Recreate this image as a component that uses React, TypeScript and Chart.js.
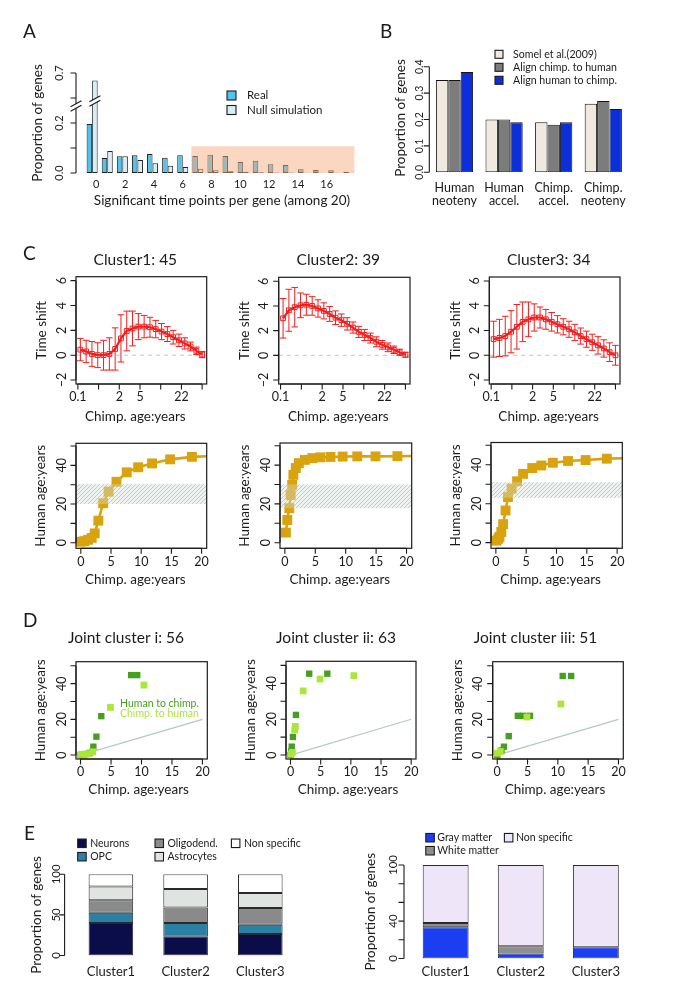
import React, { useEffect, useRef } from 'react';
import { Chart, registerables } from 'chart.js';

Chart.register(...registerables);

const PAGE_W = 685;
const PAGE_H = 1007;
const FONT = 'Lato, "Open Sans", "DejaVu Sans", sans-serif';
const INK = '#1b1b1b';
const TICK = 5.5;

// ================= Panel A data =================
const aCounts = ['0', '1', '2', '3', '4', '5', '6', '7', '8', '9', '10', '11', '12', '13', '14', '15', '16', '17'];
const aReal = [0.196, 0.06, 0.067, 0.071, 0.076, 0.061, 0.071, 0.068, 0.073, 0.068, 0.044, 0.049, 0.035, 0.032, 0.015, 0.012, 0.011, 0.005];
const aNull = [0.67, 0.088, 0.067, 0.052, 0.039, 0.029, 0.024, 0.017, 0.011, 0.007, 0.004, 0.003, 0.002, 0.002, 0.0015, 0.0015, 0.0015, 0.0015];
const aSeriesNames = ['Real', 'Null simulation'];
const aYTicks = [0, 0.1, 0.2, 0.6, 0.7];
const aYTickLabels = ['0.0', '', '0.2', '', '0.7'];
const aXTicks = [0, 2, 4, 6, 8, 10, 12, 14, 16];
const aShadeStart = 7;
const aShadeTop = 0.107;

// ================= Panel B data =================
const bCategories = [['Human', 'neoteny'], ['Human', 'accel.'], ['Chimp.', 'accel.'], ['Chimp.', 'neoteny']];
const bSomel = [0.35, 0.2, 0.19, 0.26];
const bChimpToHuman = [0.35, 0.2, 0.18, 0.27];
const bHumanToChimp = [0.38, 0.19, 0.19, 0.24];
const bSeriesNames = ['Somel et al.(2009)', 'Align chimp. to human', 'Align human to chimp.'];
const bYTicks = [0, 0.1, 0.2, 0.3, 0.4];
const bYTickLabels = ['0.0', '0.1', '0.2', '0.3', '0.4'];

// ================= Panel C data =================
const cTitles = ['Cluster1: 45', 'Cluster2: 39', 'Cluster3: 34'];
const cAgeIndex = [0.12, 0.4, 0.68, 0.96, 1.24, 1.52, 1.8, 2.08, 2.36, 2.64, 2.92, 3.2, 3.48, 3.76, 4.04, 4.32, 4.6, 4.88, 5.16, 5.44, 5.72, 6.0];
const cAgeTickIndex = [0, 1, 2, 3, 4, 5, 6];
const cAgeTickLabels = ['0.1', '', '2', '5', '', '22', ''];
const cShiftTicks = [-2, 0, 2, 4, 6];
const cShiftTickLabels = ['\u22122', '0', '2', '4', '6'];
const c1Shift = [0.45, 0.3, 0.1, 0.0, 0.0, 0.1, 0.5, 1.35, 1.95, 2.15, 2.3, 2.3, 2.25, 2.1, 1.9, 1.7, 1.45, 1.2, 0.95, 0.7, 0.35, 0.05];
const c1Err = [0.9, 0.9, 1.0, 1.0, 1.2, 1.3, 1.7, 1.9, 1.6, 1.4, 1.05, 0.9, 0.8, 0.7, 0.65, 0.6, 0.55, 0.5, 0.45, 0.35, 0.3, 0.25];
const c2Shift = [3.0, 3.65, 3.9, 4.05, 4.1, 4.0, 3.8, 3.6, 3.35, 3.05, 2.85, 2.55, 2.25, 1.9, 1.65, 1.4, 1.1, 0.85, 0.65, 0.45, 0.25, 0.05];
const c2Err = [1.6, 1.7, 1.6, 1.0, 0.85, 0.75, 0.7, 0.65, 0.6, 0.55, 0.5, 0.5, 0.45, 0.45, 0.45, 0.4, 0.4, 0.35, 0.35, 0.3, 0.25, 0.2];
const c3Shift = [1.3, 1.4, 1.55, 1.9, 2.3, 2.7, 2.9, 3.05, 3.05, 2.9, 2.7, 2.5, 2.3, 2.1, 1.85, 1.55, 1.3, 1.05, 0.8, 0.55, 0.25, 0.0];
const c3Err = [1.45, 1.5, 1.6, 1.7, 1.8, 1.6, 1.4, 1.1, 0.85, 0.8, 0.75, 0.7, 0.65, 0.65, 0.65, 0.65, 0.65, 0.65, 0.7, 0.7, 0.75, 0.8];
const cShiftMeans = [c1Shift, c2Shift, c3Shift];
const cShiftErrs = [c1Err, c2Err, c3Err];

const c1ChimpAge = [0, 0.6, 1.2, 1.8, 2.3, 2.9, 3.7, 4.6, 5.9, 7.6, 9.5, 11.8, 14.8, 18.4];
const c1HumanAge = [0.5, 0.8, 1.5, 2.5, 4.8, 11.4, 20.4, 26.4, 31.5, 36.4, 39, 41, 43.1, 44.4];
const c2ChimpAge = [0.17, 0.4, 0.73, 0.95, 1.2, 1.4, 1.8, 2.3, 3.3, 4.5, 5.8, 7.5, 9.5, 11.9, 14.9, 18.5];
const c2HumanAge = [5.2, 11.7, 17.8, 24.6, 29.8, 35, 38.5, 41, 42.7, 43.6, 44, 44.2, 44.4, 44.5, 44.5, 44.6];
const c3ChimpAge = [0.1, 0.4, 0.6, 0.9, 1.2, 1.6, 2.0, 2.6, 3.5, 4.5, 6.0, 7.5, 9.4, 11.9, 14.8, 18.3];
const c3HumanAge = [1, 2, 3, 5.5, 9.5, 16.5, 23.4, 27.7, 31.5, 35.3, 38.3, 39.6, 41, 41.9, 42.4, 43.1];
const cChimpAges = [c1ChimpAge, c2ChimpAge, c3ChimpAge];
const cHumanAges = [c1HumanAge, c2HumanAge, c3HumanAge];
const cCurveEndAge = 21.5;
const cCurveEndHuman = [44.8, 44.7, 43.4];
const cBandLow = [20, 17.8, 23];
const cBandHigh = [30.3, 30, 31];
const ageTicks = [0, 5, 10, 15, 20];
const ageTickLabels = ['0', '5', '10', '15', '20'];
const humanTicks = [0, 10, 20, 30, 40, 50];
const humanTickLabels = ['0', '', '20', '', '40', ''];

// ================= Panel D data =================
const dTitles = ['Joint cluster i: 56', 'Joint cluster ii: 63', 'Joint cluster iii: 51'];
const dSeriesNames = ['Chimp. to human', 'Human to chimp.'];
const d1DarkAge = [0, 0.5, 1.0, 1.5, 2.0, 2.1, 2.6, 3.4, 8.3, 9.3];
const d1DarkHuman = [0, 0.3, 0.6, 1.2, 2.2, 4.7, 10.3, 21.8, 44.8, 44.8];
const d1LightAge = [0.1, 0.7, 1.3, 2.0, 4.9, 10.4];
const d1LightHuman = [0.4, 0.5, 0.8, 1.8, 26.7, 39.2];
const d2DarkAge = [0, 0.1, 0.2, 0.4, 0.9, 3.1, 6.1];
const d2DarkHuman = [0, 2, 4.7, 10.1, 22.4, 45.4, 45.4];
const d2LightAge = [0.1, 0.3, 0.7, 0.8, 2.1, 4.9, 10.5];
const d2LightHuman = [0.5, 1.5, 14, 16, 35.8, 42.4, 44.3];
const d3DarkAge = [0, 0.7, 1.1, 1.9, 3.4, 4.3, 5.4, 10.8, 12.2];
const d3DarkHuman = [0, 2.6, 4.7, 10.6, 22, 22, 22, 44.3, 44.3];
const d3LightAge = [0, 0.5, 4.9, 10.5];
const d3LightHuman = [1, 2, 21.3, 28.6];
const dDarkAges = [d1DarkAge, d2DarkAge, d3DarkAge];
const dDarkHumans = [d1DarkHuman, d2DarkHuman, d3DarkHuman];
const dLightAges = [d1LightAge, d2LightAge, d3LightAge];
const dLightHumans = [d1LightHuman, d2LightHuman, d3LightHuman];
const dDiagonal = [0, 20];

// ================= Panel E data =================
const eClusters = ['Cluster1', 'Cluster2', 'Cluster3'];
const eCellTypes = ['Neurons', 'OPC', 'Oligodend.', 'Astrocytes', 'Non specific'];
const eNeurons = [40, 23, 26.5];
const eOPC = [12.5, 17, 11.5];
const eOligodend = [15.5, 19, 20.5];
const eAstrocytes = [17, 23, 18.5];
const eNonSpecificCell = [15, 18, 23];
const eCellValues = [eNeurons, eOPC, eOligodend, eAstrocytes, eNonSpecificCell];
const eLeftTicks = [0, 50, 100];
const eLeftTickLabels = ['0', '50', '100'];
const eMatterTypes = ['Gray matter', 'White matter', 'Non specific'];
const eGrayMatter = [33.5, 5.3, 12];
const eWhiteMatter = [4.5, 7.8, 0];
const eNonSpecificMatter = [62, 86.9, 88];
const eMatterValues = [eGrayMatter, eWhiteMatter, eNonSpecificMatter];
const eRightTicks = [0, 20, 40, 60, 80, 100];
const eRightTickLabels = ['0', '', '40', '', '', '100'];

// ================= styles / layout =================
const RED = '#f41d1d';
const GOLD = '#d9a30f';
const DARK_GREEN = '#46a01e';
const LIGHT_GREEN = '#ace53c';
const bColors = ['#efe9e0', '#7c7c7c', '#0c2fd9'];
const eCellColors = ['#0b0c4a', '#2b80a6', '#8a8a8a', '#dfe4e1', '#ffffff'];
const eMatterColors = ['#1c3ef3', '#8f8f8f', '#eee6f8'];

type Area = [number, number, number, number];
const areaA: Area = [84.6, 73, 356.4, 173];
const areaB: Area = [429.7, 66.7, 628.1, 172.3];
const cTopAreas: Area[] = [[76, 276.7, 206.7, 384], [278.7, 277.3, 410, 384], [489.3, 277, 620, 384]];
const cBotAreas: Area[] = [[76, 443.3, 206.7, 548.3], [280, 443, 411.7, 548.3], [491, 442.5, 622.3, 548.3]];
const dAreas: Area[] = [[76, 661.7, 207.3, 759], [286, 661.3, 416, 759], [492.7, 661.7, 623.3, 759]];
const dTitleX = [126, 336, 535.5];
const eLeftArea: Area = [73.55, 874.3, 297.65, 955.5];
const eRightArea: Area = [408.1, 865, 633.4, 958.5];
const eLeftLegendPos = [[77.7, 843.3], [77.7, 856.7], [155, 843.3], [155, 856.7], [231.4, 843.3]];
const eRightLegendPos = [[425.8, 837.7], [425.8, 850.7], [504.4, 837.7]];
const eLabelY = 971.5;

function pad(a: Area) {
  return { left: a[0], top: a[1], right: PAGE_W - a[2], bottom: PAGE_H - a[3] };
}

function baseOptions(area: Area, scales: any) {
  return {
    responsive: false,
    maintainAspectRatio: false,
    animation: false,
    events: [],
    layout: { padding: pad(area) },
    plugins: { legend: { display: false }, tooltip: { enabled: false }, title: { display: false } },
    scales,
  };
}

function txt(ctx: any, s: string, x: number, y: number, size: number, o: any = {}) {
  ctx.save();
  ctx.font = `${o.weight || 'normal'} ${size}px ${o.font || FONT}`;
  ctx.fillStyle = o.color || INK;
  ctx.textAlign = o.align || 'center';
  ctx.textBaseline = o.baseline || 'middle';
  ctx.translate(x, y);
  if (o.rot) ctx.rotate(o.rot);
  ctx.fillText(s, 0, 0);
  ctx.restore();
}

function drawYAxis(chart: any, a: any) {
  const { ctx, chartArea } = chart;
  const s = chart.scales[a.scaleId || 'y'];
  const x0 = a.at ?? chartArea.left;
  const ps = a.ticks.map((v: number) => s.getPixelForValue(v));
  ctx.save();
  ctx.strokeStyle = INK;
  ctx.lineWidth = 1.1;
  ctx.beginPath();
  if (a.line !== false) {
    ctx.moveTo(x0, ps[0]);
    ctx.lineTo(x0, ps[ps.length - 1]);
  }
  ps.forEach((p: number) => {
    ctx.moveTo(x0, p);
    ctx.lineTo(x0 - TICK, p);
  });
  ctx.stroke();
  ctx.restore();
  ps.forEach((p: number, i: number) => {
    if (a.labels[i]) txt(ctx, a.labels[i], x0 - a.gap, p, a.size, { rot: -Math.PI / 2 });
  });
  if (a.title) {
    txt(ctx, a.title, x0 - a.titleGap, a.titleY ?? (chartArea.top + chartArea.bottom) / 2, a.titleSize, { rot: -Math.PI / 2 });
  }
}

function drawXAxis(chart: any, a: any) {
  const { ctx, chartArea } = chart;
  const s = chart.scales[a.scaleId || 'x'];
  const y0 = a.at ?? chartArea.bottom;
  const ps = a.ticks.map((v: number) => s.getPixelForValue(v));
  ctx.save();
  ctx.strokeStyle = INK;
  ctx.lineWidth = 1.1;
  ctx.beginPath();
  if (a.line !== false) {
    ctx.moveTo(ps[0], y0);
    ctx.lineTo(ps[ps.length - 1], y0);
  }
  if (a.marks !== false) {
    ps.forEach((p: number) => {
      ctx.moveTo(p, y0);
      ctx.lineTo(p, y0 + TICK);
    });
  }
  ctx.stroke();
  ctx.restore();
  ps.forEach((p: number, i: number) => {
    if (a.labels[i]) txt(ctx, a.labels[i], p, y0 + a.gap, a.size);
  });
  if (a.title) {
    txt(ctx, a.title, a.titleX ?? (chartArea.left + chartArea.right) / 2, y0 + a.titleGap, a.titleSize);
  }
}

function drawBox(chart: any) {
  const { ctx, chartArea: c } = chart;
  ctx.save();
  ctx.strokeStyle = INK;
  ctx.lineWidth = 1.2;
  ctx.strokeRect(c.left, c.top, c.right - c.left, c.bottom - c.top);
  ctx.restore();
}

function legendRow(ctx: any, x: number, y: number, box: number, fill: string, label: string, size: number, textX: number) {
  ctx.save();
  ctx.fillStyle = fill;
  ctx.fillRect(x, y - box / 2, box, box);
  ctx.strokeStyle = INK;
  ctx.lineWidth = 1.1;
  ctx.strokeRect(x, y - box / 2, box, box);
  ctx.restore();
  txt(ctx, label, textX, y, size, { align: 'left' });
}

function slash(ctx: any, cx: number, cy: number) {
  const hw = 5.5, rise = 6, gap = 4.5;
  ctx.save();
  ctx.fillStyle = '#ffffff';
  ctx.beginPath();
  ctx.moveTo(cx - hw, cy + rise / 2 + gap / 2);
  ctx.lineTo(cx + hw, cy - rise / 2 + gap / 2);
  ctx.lineTo(cx + hw, cy - rise / 2 - gap / 2);
  ctx.lineTo(cx - hw, cy + rise / 2 - gap / 2);
  ctx.closePath();
  ctx.fill();
  ctx.strokeStyle = INK;
  ctx.lineWidth = 1.1;
  ctx.beginPath();
  ctx.moveTo(cx - hw, cy + rise / 2 + gap / 2);
  ctx.lineTo(cx + hw, cy - rise / 2 + gap / 2);
  ctx.moveTo(cx - hw, cy + rise / 2 - gap / 2);
  ctx.lineTo(cx + hw, cy - rise / 2 - gap / 2);
  ctx.stroke();
  ctx.restore();
}

function letter(ctx: any, s: string, x: number, y: number) {
  txt(ctx, s, x, y, 19, { align: 'left', baseline: 'alphabetic' });
}

// ================= chart configs =================
const brk = (v: number) => (v > 0.3 ? v - 0.3 : v);

function configA() {
  const barStyle = { borderColor: '#202020', borderWidth: 1, borderSkipped: false, barPercentage: 1, categoryPercentage: 0.73 };
  return {
    type: 'bar',
    data: {
      labels: aCounts,
      datasets: [
        { label: aSeriesNames[0], data: aReal.map(brk), backgroundColor: '#52c4ec', ...barStyle },
        { label: aSeriesNames[1], data: aNull.map(brk), backgroundColor: '#d7eef6', ...barStyle },
      ],
    },
    options: baseOptions(areaA, {
      x: { display: false },
      y: { display: false, min: 0, max: 0.4 },
      xl: { type: 'linear', axis: 'x', position: 'bottom', display: false, offset: false, grace: 0, min: -0.8125, max: 18.06 },
    }),
    plugins: [
      {
        id: 'panelA',
        afterDatasetsDraw(chart: any) {
          const { ctx, scales, chartArea } = chart;
          const x = scales.x, y = scales.y;
          const left = (x.getPixelForValue(aShadeStart - 1) + x.getPixelForValue(aShadeStart)) / 2 + 1;
          const right = chartArea.right - 2;
          const top = y.getPixelForValue(aShadeTop);
          ctx.save();
          ctx.fillStyle = 'rgba(247,172,125,0.48)';
          ctx.fillRect(left, top, right - left, y.getPixelForValue(0) - top);
          ctx.restore();
          const nullBar = chart.getDatasetMeta(1).data[0];
          slash(ctx, nullBar.x, y.getPixelForValue(0.288));
        },
        afterDraw(chart: any) {
          const { ctx, scales } = chart;
          drawYAxis(chart, { ticks: aYTicks.map(brk), labels: aYTickLabels, at: 76, gap: 16.5, size: 11, title: 'Proportion of genes', titleGap: 38, titleSize: 13.5 });
          slash(ctx, 76, scales.y.getPixelForValue(0.268));
          aXTicks.forEach((v) => txt(ctx, String(v), scales.xl.getPixelForValue(v), 184, 11));
          txt(ctx, 'Significant time points per gene (among 20)', 222, 200.5, 13.5);
          chart.data.datasets.forEach((ds: any, i: number) => legendRow(ctx, 227, 95.5 + i * 14.5, 9, ds.backgroundColor, ds.label, 11.5, 247));
          letter(ctx, 'A', 23, 38);
        },
      },
    ],
  };
}

function configB() {
  const series = [bSomel, bChimpToHuman, bHumanToChimp];
  return {
    type: 'bar',
    data: {
      labels: bCategories.map((c) => c.join(' ')),
      datasets: series.map((d, i) => ({
        label: bSeriesNames[i],
        data: d,
        backgroundColor: bColors[i],
        borderColor: '#151515',
        borderWidth: 1,
        borderSkipped: false,
        barPercentage: 1,
        categoryPercentage: 0.75,
      })),
    },
    options: baseOptions(areaB, { x: { display: false }, y: { display: false, min: 0, max: 0.4 } }),
    plugins: [
      {
        id: 'panelB',
        afterDraw(chart: any) {
          const { ctx, scales } = chart;
          drawYAxis(chart, { ticks: bYTicks, labels: bYTickLabels, at: 429.3, gap: 9.5, size: 10.5, title: 'Proportion of genes', titleGap: 29, titleSize: 13.5, titleY: 118 });
          bCategories.forEach((c, i) => {
            const px = scales.x.getPixelForValue(i);
            txt(ctx, c[0], px, 187.5, 12.5);
            txt(ctx, c[1], px, 200.5, 12.5);
          });
          chart.data.datasets.forEach((ds: any, i: number) => legendRow(ctx, 495, 54.3 + i * 13, 8, ds.backgroundColor, ds.label, 10.6, 513));
          letter(ctx, 'B', 380, 38);
        },
      },
    ],
  };
}

function configCTop(k: number) {
  const mean = cShiftMeans[k];
  const err = cShiftErrs[k];
  const area = cTopAreas[k];
  return {
    type: 'line',
    data: {
      datasets: [
        {
          data: cAgeIndex.map((x, i) => ({ x, y: mean[i] })),
          borderColor: RED,
          borderWidth: 2.2,
          pointStyle: 'rect',
          pointRadius: 3.4,
          pointBorderColor: RED,
          pointBackgroundColor: 'rgba(255,255,255,0)',
          pointBorderWidth: 1,
          tension: 0,
        },
      ],
    },
    options: baseOptions(area, {
      x: { type: 'linear', display: false, min: -0.09, max: 6.22 },
      y: { display: false, min: -2.32, max: 6.32 },
    }),
    plugins: [
      {
        id: 'cTop',
        beforeDatasetsDraw(chart: any) {
          const { ctx, scales, chartArea } = chart;
          const y0 = scales.y.getPixelForValue(0);
          ctx.save();
          ctx.strokeStyle = '#c4c4c4';
          ctx.setLineDash([4, 4]);
          ctx.lineWidth = 1;
          ctx.beginPath();
          ctx.moveTo(chartArea.left, y0);
          ctx.lineTo(chartArea.right, y0);
          ctx.stroke();
          ctx.setLineDash([]);
          ctx.strokeStyle = RED;
          ctx.lineWidth = 1;
          ctx.beginPath();
          cAgeIndex.forEach((xv, i) => {
            const px = scales.x.getPixelForValue(xv);
            const lo = Math.min(scales.y.getPixelForValue(mean[i] - err[i]), chartArea.bottom);
            const hi = scales.y.getPixelForValue(mean[i] + err[i]);
            ctx.moveTo(px, lo);
            ctx.lineTo(px, hi);
            ctx.moveTo(px - 3.3, hi);
            ctx.lineTo(px + 3.3, hi);
            if (lo < chartArea.bottom) {
              ctx.moveTo(px - 3.3, lo);
              ctx.lineTo(px + 3.3, lo);
            }
          });
          ctx.stroke();
          ctx.restore();
        },
        afterDraw(chart: any) {
          const { ctx, chartArea } = chart;
          drawBox(chart);
          drawYAxis(chart, { ticks: cShiftTicks, labels: cShiftTickLabels, gap: 14.5, size: 12.5, title: 'Time shift', titleGap: 34, titleSize: 13.5 });
          const cx = (chartArea.left + chartArea.right) / 2 - 6;
          drawXAxis(chart, { ticks: cAgeTickIndex, labels: cAgeTickLabels, gap: 13, size: 12.5, title: 'Chimp. age:years', titleGap: 32.7, titleSize: 13.5, titleX: cx });
          txt(ctx, cTitles[k], cx, 260, 15.5);
          if (k === 0) letter(ctx, 'C', 23, 260);
        },
      },
    ],
  };
}

function makeHatch(ctx: any) {
  const c = document.createElement('canvas');
  c.width = 4;
  c.height = 4;
  const g = c.getContext('2d') as CanvasRenderingContext2D;
  g.strokeStyle = 'rgba(150,180,178,0.75)';
  g.lineWidth = 0.8;
  g.beginPath();
  g.moveTo(0, 4);
  g.lineTo(4, 0);
  g.moveTo(-1, 1);
  g.lineTo(1, -1);
  g.moveTo(3, 5);
  g.lineTo(5, 3);
  g.stroke();
  return ctx.createPattern(c, 'repeat');
}

function configCBottom(k: number) {
  const xs = cChimpAges[k];
  const ys = cHumanAges[k];
  const pts = xs.map((x, i) => ({ x, y: ys[i] }));
  return {
    type: 'scatter',
    data: {
      datasets: [
        { data: pts, pointStyle: 'rect', pointRadius: 7, backgroundColor: GOLD, borderColor: GOLD, borderWidth: 0, clip: false },
        { data: [...pts, { x: cCurveEndAge, y: cCurveEndHuman[k] }], showLine: true, borderColor: GOLD, borderWidth: 2.6, pointRadius: 0, tension: 0 },
      ],
    },
    options: baseOptions(cBotAreas[k], {
      x: { type: 'linear', display: false, min: -0.8, max: 20.85 },
      y: { display: false, min: -2.9, max: 51.4 },
    }),
    plugins: [
      {
        id: 'cBot',
        afterDatasetsDraw(chart: any) {
          const { ctx, scales, chartArea } = chart;
          const top = scales.y.getPixelForValue(cBandHigh[k]);
          const bot = scales.y.getPixelForValue(cBandLow[k]);
          ctx.save();
          ctx.fillStyle = 'rgba(212,224,222,0.4)';
          ctx.fillRect(chartArea.left, top, chartArea.right - chartArea.left, bot - top);
          ctx.fillStyle = makeHatch(ctx);
          ctx.fillRect(chartArea.left, top, chartArea.right - chartArea.left, bot - top);
          ctx.restore();
        },
        afterDraw(chart: any) {
          const { chartArea } = chart;
          drawBox(chart);
          drawYAxis(chart, { ticks: humanTicks, labels: humanTickLabels, gap: 14.5, size: 12.5, title: 'Human age:years', titleGap: 35, titleSize: 13.5 });
          drawXAxis(chart, { ticks: ageTicks, labels: ageTickLabels, gap: 13.4, size: 12.5, title: 'Chimp. age:years', titleGap: 31.7, titleSize: 13.5, titleX: (chartArea.left + chartArea.right) / 2 - 6 });
        },
      },
    ],
  };
}

function configD(k: number) {
  const dark = dDarkAges[k].map((x, i) => ({ x, y: dDarkHumans[k][i] }));
  const light = dLightAges[k].map((x, i) => ({ x, y: dLightHumans[k][i] }));
  return {
    type: 'scatter',
    data: {
      datasets: [
        { label: dSeriesNames[0], data: light, pointStyle: 'rect', pointRadius: 4.8, backgroundColor: LIGHT_GREEN, borderColor: LIGHT_GREEN, borderWidth: 0, clip: false },
        { label: dSeriesNames[1], data: dark, pointStyle: 'rect', pointRadius: 4.5, backgroundColor: DARK_GREEN, borderColor: DARK_GREEN, borderWidth: 0, clip: false },
        { data: dDiagonal.map((v) => ({ x: v, y: v })), showLine: true, borderColor: '#b5c8c8', borderWidth: 1.2, pointRadius: 0 },
      ],
    },
    options: baseOptions(dAreas[k], {
      x: { type: 'linear', display: false, min: -0.75, max: 20.8 },
      y: { display: false, min: -2.2, max: 52.3 },
    }),
    plugins: [
      {
        id: 'panelD',
        afterDraw(chart: any) {
          const { ctx, chartArea } = chart;
          drawBox(chart);
          drawYAxis(chart, { ticks: humanTicks, labels: humanTickLabels, gap: 14.5, size: 12.5, title: 'Human age:years', titleGap: 35, titleSize: 13.5 });
          drawXAxis(chart, { ticks: ageTicks, labels: ageTickLabels, gap: 12.7, size: 12.5, title: 'Chimp. age:years', titleGap: 31, titleSize: 13.5, titleX: (chartArea.left + chartArea.right) / 2 - 3 });
          txt(ctx, dTitles[k], dTitleX[k], 638.3, 15.5);
          if (k === 0) {
            const ds = chart.data.datasets;
            txt(ctx, ds[1].label, 120, 703.5, 10.5, { align: 'left', color: DARK_GREEN });
            txt(ctx, ds[0].label, 120, 714, 10.5, { align: 'left', color: LIGHT_GREEN });
            letter(ctx, 'D', 23, 627);
          }
        },
      },
    ],
  };
}

function stackedConfig(area: Area, names: string[], values: number[][], colors: string[], catPct: number, plugin: any) {
  return {
    type: 'bar',
    data: {
      labels: eClusters,
      datasets: names.map((n, i) => ({
        label: n,
        data: values[i],
        backgroundColor: colors[i],
        borderColor: '#2a2a2a',
        borderWidth: 1,
        borderSkipped: false,
        barPercentage: 1,
        categoryPercentage: catPct,
      })),
    },
    options: baseOptions(area, {
      x: { display: false, stacked: true },
      y: { display: false, stacked: true, min: 0, max: 100 },
    }),
    plugins: [plugin],
  };
}

function configELeft() {
  return stackedConfig(eLeftArea, eCellTypes, eCellValues, eCellColors, 0.597, {
    id: 'eLeft',
    afterDraw(chart: any) {
      const { ctx, scales } = chart;
      drawYAxis(chart, { ticks: eLeftTicks, labels: eLeftTickLabels, at: 64.6, gap: 8, size: 11.5, title: 'Proportion of genes', titleGap: 27.5, titleSize: 13.5 });
      eClusters.forEach((c, i) => txt(ctx, c, scales.x.getPixelForValue(i), eLabelY, 13));
      chart.data.datasets.forEach((ds: any, i: number) => {
        const [x, y] = eLeftLegendPos[i];
        legendRow(ctx, x, y, 8.5, ds.backgroundColor, ds.label, 10.5, x + 12.5);
      });
      letter(ctx, 'E', 24, 840);
    },
  });
}

function configERight() {
  return stackedConfig(eRightArea, eMatterTypes, eMatterValues, eMatterColors, 0.611, {
    id: 'eRight',
    afterDraw(chart: any) {
      const { ctx, scales } = chart;
      drawYAxis(chart, { ticks: eRightTicks, labels: eRightTickLabels, at: 404, gap: 11, size: 11.5, title: 'Proportion of genes', titleGap: 33, titleSize: 13.5 });
      eClusters.forEach((c, i) => txt(ctx, c, scales.x.getPixelForValue(i), eLabelY, 13));
      chart.data.datasets.forEach((ds: any, i: number) => {
        const [x, y] = eRightLegendPos[i];
        legendRow(ctx, x, y, 8.5, ds.backgroundColor, ds.label, 10.5, x + 11.5);
      });
    },
  });
}

const N_CHARTS = 13;

export default function App() {
  const refs = useRef<(HTMLCanvasElement | null)[]>([]);

  useEffect(() => {
    const configs: any[] = [
      configA(),
      configB(),
      configCTop(0),
      configCTop(1),
      configCTop(2),
      configCBottom(0),
      configCBottom(1),
      configCBottom(2),
      configD(0),
      configD(1),
      configD(2),
      configELeft(),
      configERight(),
    ];
    const charts = configs.map((cfg, i) => new Chart(refs.current[i] as HTMLCanvasElement, cfg));
    let alive = true;
    const fonts: any = (document as any).fonts;
    if (fonts && fonts.load) {
      fonts
        .load('13px Lato')
        .then(() => {
          if (alive) charts.forEach((c) => c.update());
        })
        .catch(() => {});
    }
    return () => {
      alive = false;
      charts.forEach((c) => c.destroy());
    };
  }, []);

  return (
    <div style={{ position: 'absolute', left: 0, top: 0, width: PAGE_W, height: PAGE_H, background: '#ffffff', overflow: 'hidden' }}>
      {Array.from({ length: N_CHARTS }, (_, i) => (
        <canvas
          key={i}
          ref={(el) => {
            refs.current[i] = el;
          }}
          width={PAGE_W}
          height={PAGE_H}
          style={{ position: 'absolute', left: 0, top: 0, width: PAGE_W, height: PAGE_H }}
        />
      ))}
    </div>
  );
}
